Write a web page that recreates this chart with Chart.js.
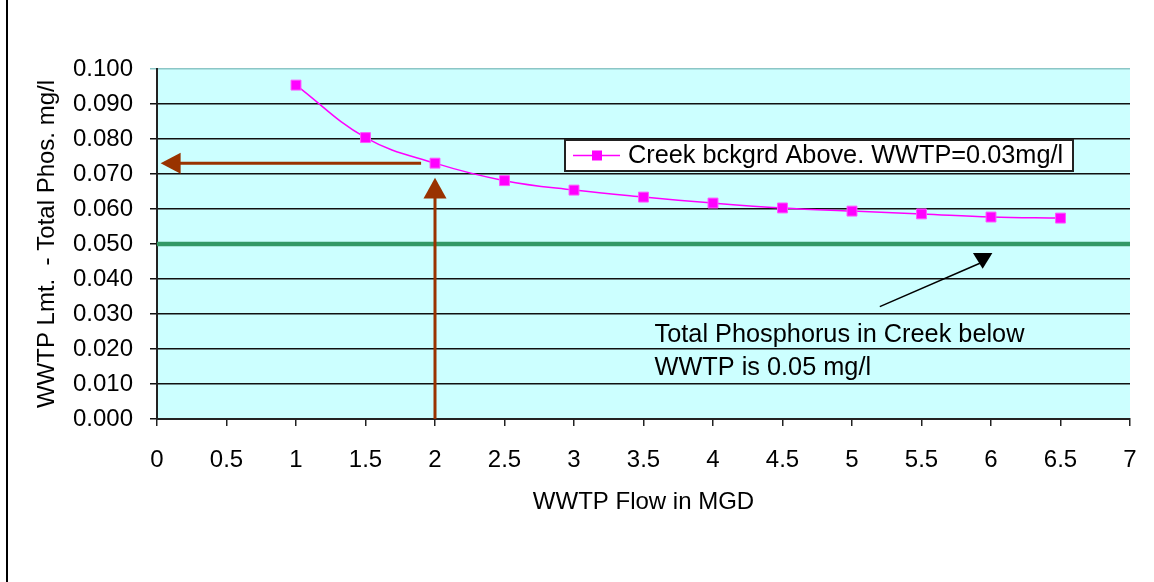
<!DOCTYPE html>
<html>
<head>
<meta charset="utf-8">
<script src="https://cdn.jsdelivr.net/npm/chart.js@4.4.0/dist/chart.umd.min.js"></script>
<style>
  body { margin: 0; background: #fff; }
  canvas { display: block; }
</style>
</head>
<body>
<canvas id="phosChart" width="1154" height="582"></canvas>
<script>
// WWTP flow (MGD) and the allowed WWTP limit (mg/l)
const flows = [1, 1.5, 2, 2.5, 3, 3.5, 4, 4.5, 5, 5.5, 6, 6.5];
const limits = [0.0954, 0.0804, 0.0731, 0.0681, 0.0654, 0.0634, 0.0617, 0.0603, 0.0594, 0.0586, 0.0577, 0.0574];
const creekStd = 0.05;      // creek target below WWTP
const xRange = [0, 7];
const seriesLabel = 'Creek bckgrd Above. WWTP=0.03mg/l';
const xTitle = 'WWTP Flow in MGD';
const yTitle = 'WWTP Lmt.  - Total Phos. mg/l';
const noteLines = ['Total Phosphorus in Creek below', 'WWTP is 0.05 mg/l'];

const FONT = 'Liberation Sans, Arial, sans-serif';
const PINK = '#FF00FF';
const BROWN = '#993300';

function arrowHead(ctx, tipX, tipY, baseX, baseY, half) {
  // triangle pointing from base to tip
  const dx = tipX - baseX, dy = tipY - baseY;
  const len = Math.hypot(dx, dy);
  const nx = -dy / len, ny = dx / len;
  ctx.beginPath();
  ctx.moveTo(tipX, tipY);
  ctx.lineTo(baseX + nx * half, baseY + ny * half);
  ctx.lineTo(baseX - nx * half, baseY - ny * half);
  ctx.closePath();
  ctx.fill();
}

//plot background
const bgPlugin = {
  id: 'bg',
  beforeDraw(chart) {
    const ctx = chart.ctx, a = chart.chartArea;
    ctx.save();
    ctx.fillStyle = '#fff';
    ctx.fillRect(0, 0, chart.width, chart.height);
    ctx.fillStyle = '#CCFFFF';
    ctx.fillRect(a.left, a.top, a.right - a.left, a.bottom - a.top);
    ctx.restore();
  }
};

//arrows, note, legend box, frame
const notesPlugin = {
  id: 'notes',
  afterDatasetsDraw(chart) {
    const ctx = chart.ctx;
    const xs = chart.scales.x, ys = chart.scales.y;
    const px = v => xs.getPixelForValue(v), py = v => ys.getPixelForValue(v);
    ctx.save();

    // horizontal arrow: flow 2 -> limit on y axis
    ctx.strokeStyle = BROWN; ctx.fillStyle = BROWN; ctx.lineWidth = 3;
    const yA = py(limits[2]);
    ctx.beginPath(); ctx.moveTo(px(1.9), yA); ctx.lineTo(px(0.15), yA); ctx.stroke();
    arrowHead(ctx, px(0.026), yA, px(0.17), yA, 10.5);

    // vertical arrow at flow 2
    const xA = px(flows[2]);
    ctx.beginPath(); ctx.moveTo(xA, py(0)); ctx.lineTo(xA, py(0.064)); ctx.stroke();
    arrowHead(ctx, xA, py(0.0689), xA, py(0.063), 11.5);

    // black pointer to the green line
    ctx.strokeStyle = '#000'; ctx.fillStyle = '#000'; ctx.lineWidth = 1.5;
    ctx.beginPath(); ctx.moveTo(px(5.2), py(0.0321)); ctx.lineTo(px(5.92), py(0.0445)); ctx.stroke();
    ctx.beginPath();
    ctx.moveTo(px(5.87), py(0.0474));
    ctx.lineTo(px(6.01), py(0.0474));
    ctx.lineTo(px(5.94), py(0.0429));
    ctx.closePath(); ctx.fill();

    // note text
    ctx.fillStyle = '#000';
    ctx.font = '25.3px ' + FONT;
    ctx.textBaseline = 'middle'; ctx.textAlign = 'left';
    ctx.fillText(noteLines[0], px(3.58), py(0.024));
    ctx.fillText(noteLines[1], px(3.58), py(0.0146));

    // legend box
    const a = chart.chartArea;
    const lx = a.left + 408, ly = a.top + 71, lw = 508, lh = 31;
    ctx.fillStyle = '#fff';
    ctx.fillRect(lx, ly, lw, lh);
    ctx.strokeStyle = '#222'; ctx.lineWidth = 2;
    ctx.strokeRect(lx, ly, lw, lh);
    const cy = ly + lh / 2;
    ctx.strokeStyle = PINK; ctx.lineWidth = 1.5;
    ctx.beginPath(); ctx.moveTo(lx + 8, cy); ctx.lineTo(lx + 55, cy); ctx.stroke();
    ctx.fillStyle = PINK;
    ctx.fillRect(lx + 27, cy - 5, 10, 10);
    ctx.fillStyle = '#000';
    ctx.fillText(seriesLabel, lx + 63, cy + 1);

    // outer frame line on the left
    ctx.strokeStyle = '#000'; ctx.lineWidth = 2;
    ctx.beginPath(); ctx.moveTo(7, 0); ctx.lineTo(7, chart.height); ctx.stroke();
    ctx.restore();
  }
};

const ctx = document.getElementById('phosChart');

new Chart(ctx, {
  type: 'line',
  data: {
    datasets: [{
      label: seriesLabel,
      data: flows.map((f, i) => ({ x: f, y: limits[i] })),
      borderColor: PINK,
      backgroundColor: PINK,
      borderWidth: 1.5,
      pointStyle: 'rect',
      pointRadius: 7,
      pointBorderColor: '#FF55FF',
      pointBorderWidth: 1,
      tension: 0.4,
      order: 0
    }, {
      label: 'creek',
      data: xRange.map(x => ({ x: x, y: creekStd })),
      borderColor: '#339966',
      borderWidth: 4.5,
      pointRadius: 0,
      order: 1
    }]
  },
  options: {
    responsive: false,
    animation: false,
    layout: { padding: { top: 69, right: 24, left: 0, bottom: 0 } },
    plugins: {
      legend: { display: false },
      tooltip: { enabled: false }
    },
    scales: {
      x: {
        type: 'linear',
        min: xRange[0],
        max: xRange[1],
        afterFit: s => { s.height = 163; s.paddingLeft = 0; s.paddingRight = 0; },
        grid: { drawOnChartArea: false, drawTicks: true, tickLength: 7, color: '#222', lineWidth: 1.5 },
        border: { color: '#222', width: 2 },
        ticks: {
          stepSize: 0.5,
          padding: 20,
          color: '#000',
          font: { family: FONT, size: 24 },
          maxRotation: 0,
          autoSkip: false,
          callback: v => String(v)
        },
        title: {
          display: true,
          text: xTitle,
          color: '#000',
          font: { family: FONT, size: 24 },
          padding: { top: 0, bottom: 65 }
        }
      },
      y: {
        min: 0,
        max: 0.1,
        afterFit: s => { s.width = 157; s.paddingTop = 0; s.paddingBottom = 0; },
        grid: {
          color: c => (c.tick && c.tick.value >= 0.1 ? '#8cc6c6' : '#111'),
          lineWidth: 1.5,
          tickLength: 7
        },
        border: { color: '#222', width: 2 },
        ticks: {
          stepSize: 0.01,
          padding: 17,
          color: '#000',
          font: { family: FONT, size: 24 },
          callback: v => v.toFixed(3)
        },
        title: {
          display: true,
          text: yTitle,
          color: '#000',
          font: { family: FONT, size: 24 },
          padding: { top: 33, bottom: 0 }
        }
      }
    }
  },
  plugins: [bgPlugin, notesPlugin]
});
</script>
</body>
</html>
